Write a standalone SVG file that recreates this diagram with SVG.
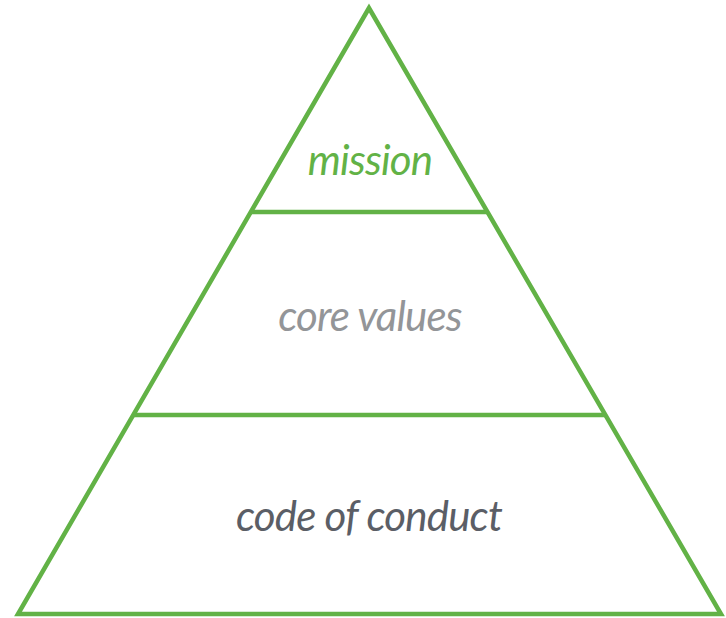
<svg xmlns="http://www.w3.org/2000/svg" width="726" height="618" viewBox="0 0 726 618">
<style>
.edge{fill:none;stroke:#62B246;stroke-width:4.5;stroke-linejoin:miter}
.lbl{font-family:Lato,"Open Sans",sans-serif;font-style:italic;font-weight:400;font-size:42px;letter-spacing:-0.8px;text-anchor:middle}
</style>
<rect width="726" height="618" fill="#fff"/>
<g id="pyramid">
<polygon class="edge" points="369,8 18,614 721,614"/>
</g>
<g id="connectors">
<line class="edge" x1="251" y1="212" x2="488" y2="212"/>
<line class="edge" x1="133" y1="415" x2="605" y2="415"/>
</g>
<g id="mission"><text class="lbl" x="370" y="175" fill="#62B246">mission</text></g>
<g id="core-values"><text class="lbl" x="370" y="331" fill="#939598">core values</text></g>
<g id="code-of-conduct"><text class="lbl" x="369" y="531" fill="#5B5E66">code of conduct</text></g>
</svg>
